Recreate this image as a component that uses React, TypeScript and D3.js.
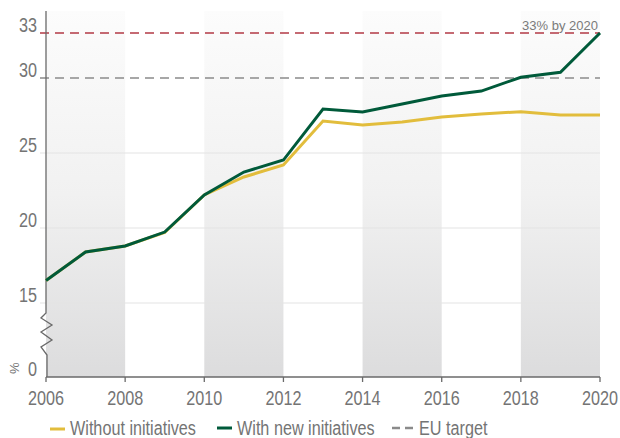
import React from "react";
import * as d3 from "d3";

const years = [2006, 2007, 2008, 2009, 2010, 2011, 2012, 2013, 2014, 2015, 2016, 2017, 2018, 2019, 2020];
const withoutInitiatives = [16.5, 18.4, 18.8, 19.7, 22.2, 23.4, 24.2, 27.13, 26.87, 27.07, 27.4, 27.6, 27.75, 27.53, 27.53];
const withNewInitiatives = [16.5, 18.4, 18.8, 19.73, 22.2, 23.73, 24.53, 27.93, 27.73, 28.27, 28.8, 29.13, 30.05, 30.38, 33];
const xTicks = [2006, 2008, 2010, 2012, 2014, 2016, 2018, 2020];
const yGrid = [15, 20, 25];
const yLabels = ["33", "30", "25", "20", "15"];
const yLabelValues = [33, 30, 25, 20, 15];
const bands = [[2006, 2008], [2010, 2012], [2014, 2016], [2018, 2020]];
const euTarget = 33;
const refLine = 30;

const W = 620, H = 438;
const x = d3.scaleLinear().domain([2006, 2020]).range([46, 600]);
const y = d3.scaleLinear().domain([15, 33]).range([303, 33]);
const yZero = 377;
const plotTop = 11;

const font = "'Liberation Sans', Arial, sans-serif";
const txt = "#747474";
const SX = 0.81;

function NText({ x, y, anchor = "start", size = 20, children }: { x: number; y: number; anchor?: string; size?: number; children: React.ReactNode }) {
  return (
    <text transform={`translate(${x},${y}) scale(${SX},1)`} textAnchor={anchor} fontFamily={font} fontSize={size} fill={txt}>
      {children}
    </text>
  );
}

export default function App() {
  const line = d3.line<number>().x((_, i) => x(years[i])).y((d) => y(d));
  const zig = `M46,${plotTop} L46,313 L41,318 L52,325 L41,332 L52,340 L41,347 L47,355 L47,${yZero}`;
  return (
    <svg width={W} height={H} style={{ position: "absolute", left: 0, top: 0 }}>
      <defs>
        <linearGradient id="bandGrad" x1="0" y1="0" x2="0" y2="1">
          <stop offset="0" stopColor="#fcfcfc" />
          <stop offset="0.5" stopColor="#f1f1f1" />
          <stop offset="1" stopColor="#dcdcdd" />
        </linearGradient>
      </defs>
      <rect width={W} height={H} fill="#fff" />
      {bands.map(([a, b]) => (
        <rect key={a} x={x(a)} y={plotTop} width={x(b) - x(a)} height={yZero - plotTop} fill="url(#bandGrad)" />
      ))}
      {yGrid.map((v) => (
        <line key={v} x1={40} x2={600} y1={y(v)} y2={y(v)} stroke="#e4e4e4" strokeWidth={1.2} />
      ))}
      <line x1={40} x2={600} y1={y(refLine)} y2={y(refLine)} stroke="#8a8a8a" strokeWidth={1.4} strokeDasharray="9,6" />
      <line x1={40} x2={600} y1={y(euTarget)} y2={y(euTarget)} stroke="#b23a45" strokeWidth={1.4} strokeDasharray="9,6" />
      <text x={598} y={30} textAnchor="end" fontFamily={font} fontSize={13} fill="#7a7a7a">33% by 2020</text>
      {/* axes */}
      <path d={zig} fill="none" stroke="#6a6a6a" strokeWidth={1.3} />
      <line x1={46} x2={600} y1={yZero} y2={yZero} stroke="#6a6a6a" strokeWidth={1.3} />
      {xTicks.map((t) => (
        <g key={t}>
          <line x1={x(t)} x2={x(t)} y1={yZero} y2={yZero + 5} stroke="#6a6a6a" strokeWidth={1.3} />
          <NText x={x(t)} y={405} anchor="middle">{t}</NText>
        </g>
      ))}
      {yLabelValues.map((v, i) => (
        <NText key={v} x={37} y={y(v) - 1} anchor="end">{yLabels[i]}</NText>
      ))}
      <NText x={37} y={yZero - 1} anchor="end">0</NText>
      <text transform={`translate(19,${yZero - 3}) rotate(-90)`} fontFamily={font} fontSize={13} fill={txt}>%</text>
      {/* lines */}
      <path d={line(withoutInitiatives) || ""} fill="none" stroke="#e2bd3c" strokeWidth={3} />
      <path d={line(withNewInitiatives) || ""} fill="none" stroke="#005a3a" strokeWidth={3} />
      {/* legend */}
      <line x1={50} x2={65} y1={429} y2={429} stroke="#e2bd3c" strokeWidth={3} />
      <NText x={70} y={435}>Without initiatives</NText>
      <line x1={217} x2={232} y1={428} y2={428} stroke="#005a3a" strokeWidth={3} />
      <NText x={237} y={435}>With new initiatives</NText>
      <line x1={392} x2={414} y1={428} y2={428} stroke="#8a8a8a" strokeWidth={2.5} strokeDasharray="8,5" />
      <NText x={419} y={435}>EU target</NText>
    </svg>
  );
}
